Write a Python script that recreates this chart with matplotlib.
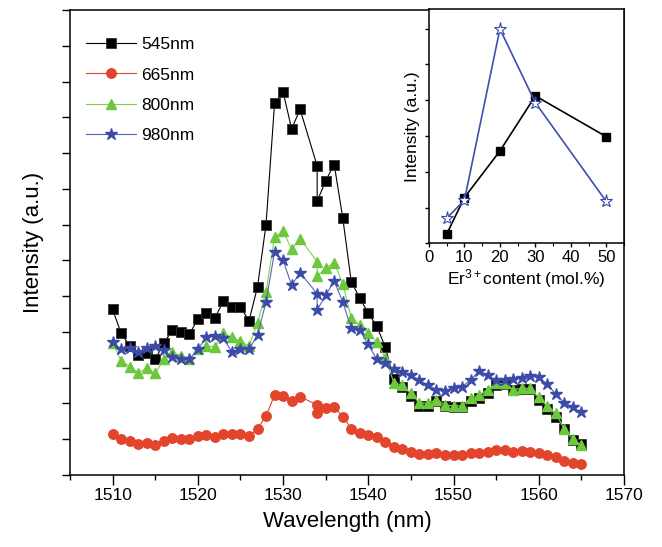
import matplotlib
matplotlib.use("Agg")
import matplotlib.pyplot as plt
from matplotlib.ticker import MultipleLocator, NullFormatter

plt.rcParams["font.family"] = ["Liberation Sans", "DejaVu Sans"]
plt.rcParams["mathtext.fontset"] = "custom"
plt.rcParams["mathtext.rm"] = "Liberation Sans"
plt.rcParams["mathtext.it"] = "Liberation Sans:italic"

# main spectrum: wavelength (nm), two readings were taken at 1534 nm
wavelength = list(range(1510, 1533)) + [1534, 1534] + list(range(1535, 1566))

i545 = [4.63, 3.96, 3.61, 3.35, 3.42, 3.23, 3.68, 4.05, 4.00, 3.94, 4.35, 4.54, 4.39,
        4.86, 4.70, 4.70, 4.31, 5.26, 7.00, 10.39, 10.71, 9.68, 10.22,
        8.64, 7.65,
        8.23, 8.68, 7.19, 5.40, 4.95, 4.52, 4.16, 3.57, 2.67, 2.45, 2.22, 1.93, 1.93,
        2.08, 1.92, 1.90, 1.90, 2.08, 2.15, 2.30, 2.52, 2.55, 2.39, 2.40, 2.40, 2.10,
        1.85, 1.62, 1.28, 0.98, 0.86]
i665 = [1.15, 1.00, 0.96, 0.88, 0.90, 0.85, 0.94, 1.03, 1.00, 1.00, 1.09, 1.13, 1.07,
        1.16, 1.16, 1.15, 1.09, 1.29, 1.65, 2.23, 2.22, 2.07, 2.19,
        1.96, 1.74,
        1.86, 1.91, 1.63, 1.30, 1.18, 1.12, 1.07, 0.93, 0.79, 0.72, 0.65, 0.59, 0.59,
        0.61, 0.56, 0.56, 0.56, 0.61, 0.62, 0.65, 0.70, 0.70, 0.65, 0.68, 0.65, 0.61,
        0.56, 0.51, 0.39, 0.33, 0.31]
i800 = [3.70, 3.19, 3.03, 2.86, 2.98, 2.84, 3.23, 3.44, 3.32, 3.23, 3.51, 3.60, 3.58,
        3.96, 3.85, 3.74, 3.60, 4.25, 5.12, 6.66, 6.82, 6.31, 6.61,
        5.96, 5.56,
        5.78, 5.94, 5.35, 4.38, 4.19, 3.96, 3.72, 3.26, 2.58, 2.51, 2.28, 2.02, 2.00,
        2.11, 1.96, 1.93, 1.93, 2.14, 2.23, 2.39, 2.56, 2.56, 2.39, 2.42, 2.42, 2.17,
        1.93, 1.72, 1.28, 1.00, 0.84]
i980 = [3.72, 3.51, 3.56, 3.44, 3.56, 3.60, 3.49, 3.29, 3.24, 3.24, 3.51, 3.85, 3.88,
        3.82, 3.44, 3.51, 3.51, 3.91, 4.84, 6.24, 6.00, 5.31, 5.65,
        5.07, 4.61,
        5.03, 5.42, 4.84, 4.10, 4.05, 3.65, 3.23, 3.12, 2.96, 2.89, 2.79, 2.65, 2.51,
        2.39, 2.36, 2.44, 2.47, 2.65, 2.91, 2.79, 2.65, 2.65, 2.67, 2.70, 2.77, 2.73,
        2.54, 2.26, 2.02, 1.89, 1.75]

# inset: peak intensity vs Er3+ content
er_content = [5, 10, 20, 30, 50]
inset_545 = [0.26, 1.28, 2.58, 4.12, 2.98]
inset_980 = [0.70, 1.21, 5.99, 3.93, 1.17]

fig = plt.figure(figsize=(6.62, 5.47), dpi=100)
ax = fig.add_axes([70 / 662, 72 / 547, 554 / 662, 465 / 547])

ax.plot(wavelength, i545, color="black", lw=0.8, marker="s", ms=6.5,
        mfc="black", mec="#333333", mew=0.6, label="545nm")
ax.plot(wavelength, i665, color="#e2442c", lw=0.8, marker="o", ms=6.8,
        mfc="#e2442c", mec="#e2442c", label="665nm")
ax.plot(wavelength, i800, color="#80cf55", lw=0.8, marker="^", ms=7.5,
        mfc="#6cc83c", mec="#6cc83c", label="800nm")
ax.plot(wavelength, i980, color="#5767b8", lw=0.8, marker="*", ms=9,
        mfc="#3c4aa8", mec="#3c4aa8", label="980nm")

ax.set_xlim(1505, 1570)
ax.set_ylim(0, 13)
ax.xaxis.set_major_locator(MultipleLocator(10))
ax.xaxis.set_minor_locator(MultipleLocator(5))
ax.yaxis.set_major_locator(MultipleLocator(1))
ax.yaxis.set_major_formatter(NullFormatter())
ax.tick_params(axis="x", which="major", direction="out", length=7, width=1, labelsize=12.5, pad=2)
ax.tick_params(axis="x", which="minor", direction="out", length=3.5, width=1)
ax.tick_params(axis="y", which="major", direction="out", length=5.5, width=1)
for s in ax.spines.values():
    s.set_linewidth(1.1)
ax.set_xlabel("Wavelength (nm)", fontsize=16, labelpad=6)
ax.set_ylabel("Intensity (a.u.)", fontsize=16, labelpad=10)

ax.legend(loc="upper left", bbox_to_anchor=(0.028, 0.942), frameon=False, fontsize=12.5,
          handlelength=2.9, handletextpad=0.3, labelspacing=0.88, numpoints=1,
          borderaxespad=0, borderpad=0)

ins = fig.add_axes([429 / 662, 303.7 / 547, 195 / 662, 234 / 547])
ins.plot(er_content, inset_545, color="black", lw=1.2, marker="s", ms=5.5,
         mfc="black", mec="black")
ins.plot(er_content, inset_980, color="#3f4fb0", lw=1.2, marker="*", ms=9.5,
         mfc="white", mec="#3a47a8", mew=0.8)
ins.set_xlim(0, 55)
ins.set_ylim(0, 6.54)
ins.xaxis.set_major_locator(MultipleLocator(10))
ins.xaxis.set_minor_locator(MultipleLocator(5))
ins.yaxis.set_major_locator(MultipleLocator(1))
ins.yaxis.set_major_formatter(NullFormatter())
ins.tick_params(axis="x", which="major", direction="out", length=3, width=1, labelsize=12, pad=2)
ins.tick_params(axis="x", which="minor", direction="out", length=2, width=0.8)
ins.tick_params(axis="y", which="major", direction="out", length=3, width=1)
for s in ins.spines.values():
    s.set_linewidth(1.1)
ins.set_xlabel("Er$^{3+}$content (mol.%)", fontsize=12.5, labelpad=1)
ins.set_ylabel("Intensity (a.u.)", fontsize=12.5, labelpad=0)

fig.savefig("out.png", dpi=100)
